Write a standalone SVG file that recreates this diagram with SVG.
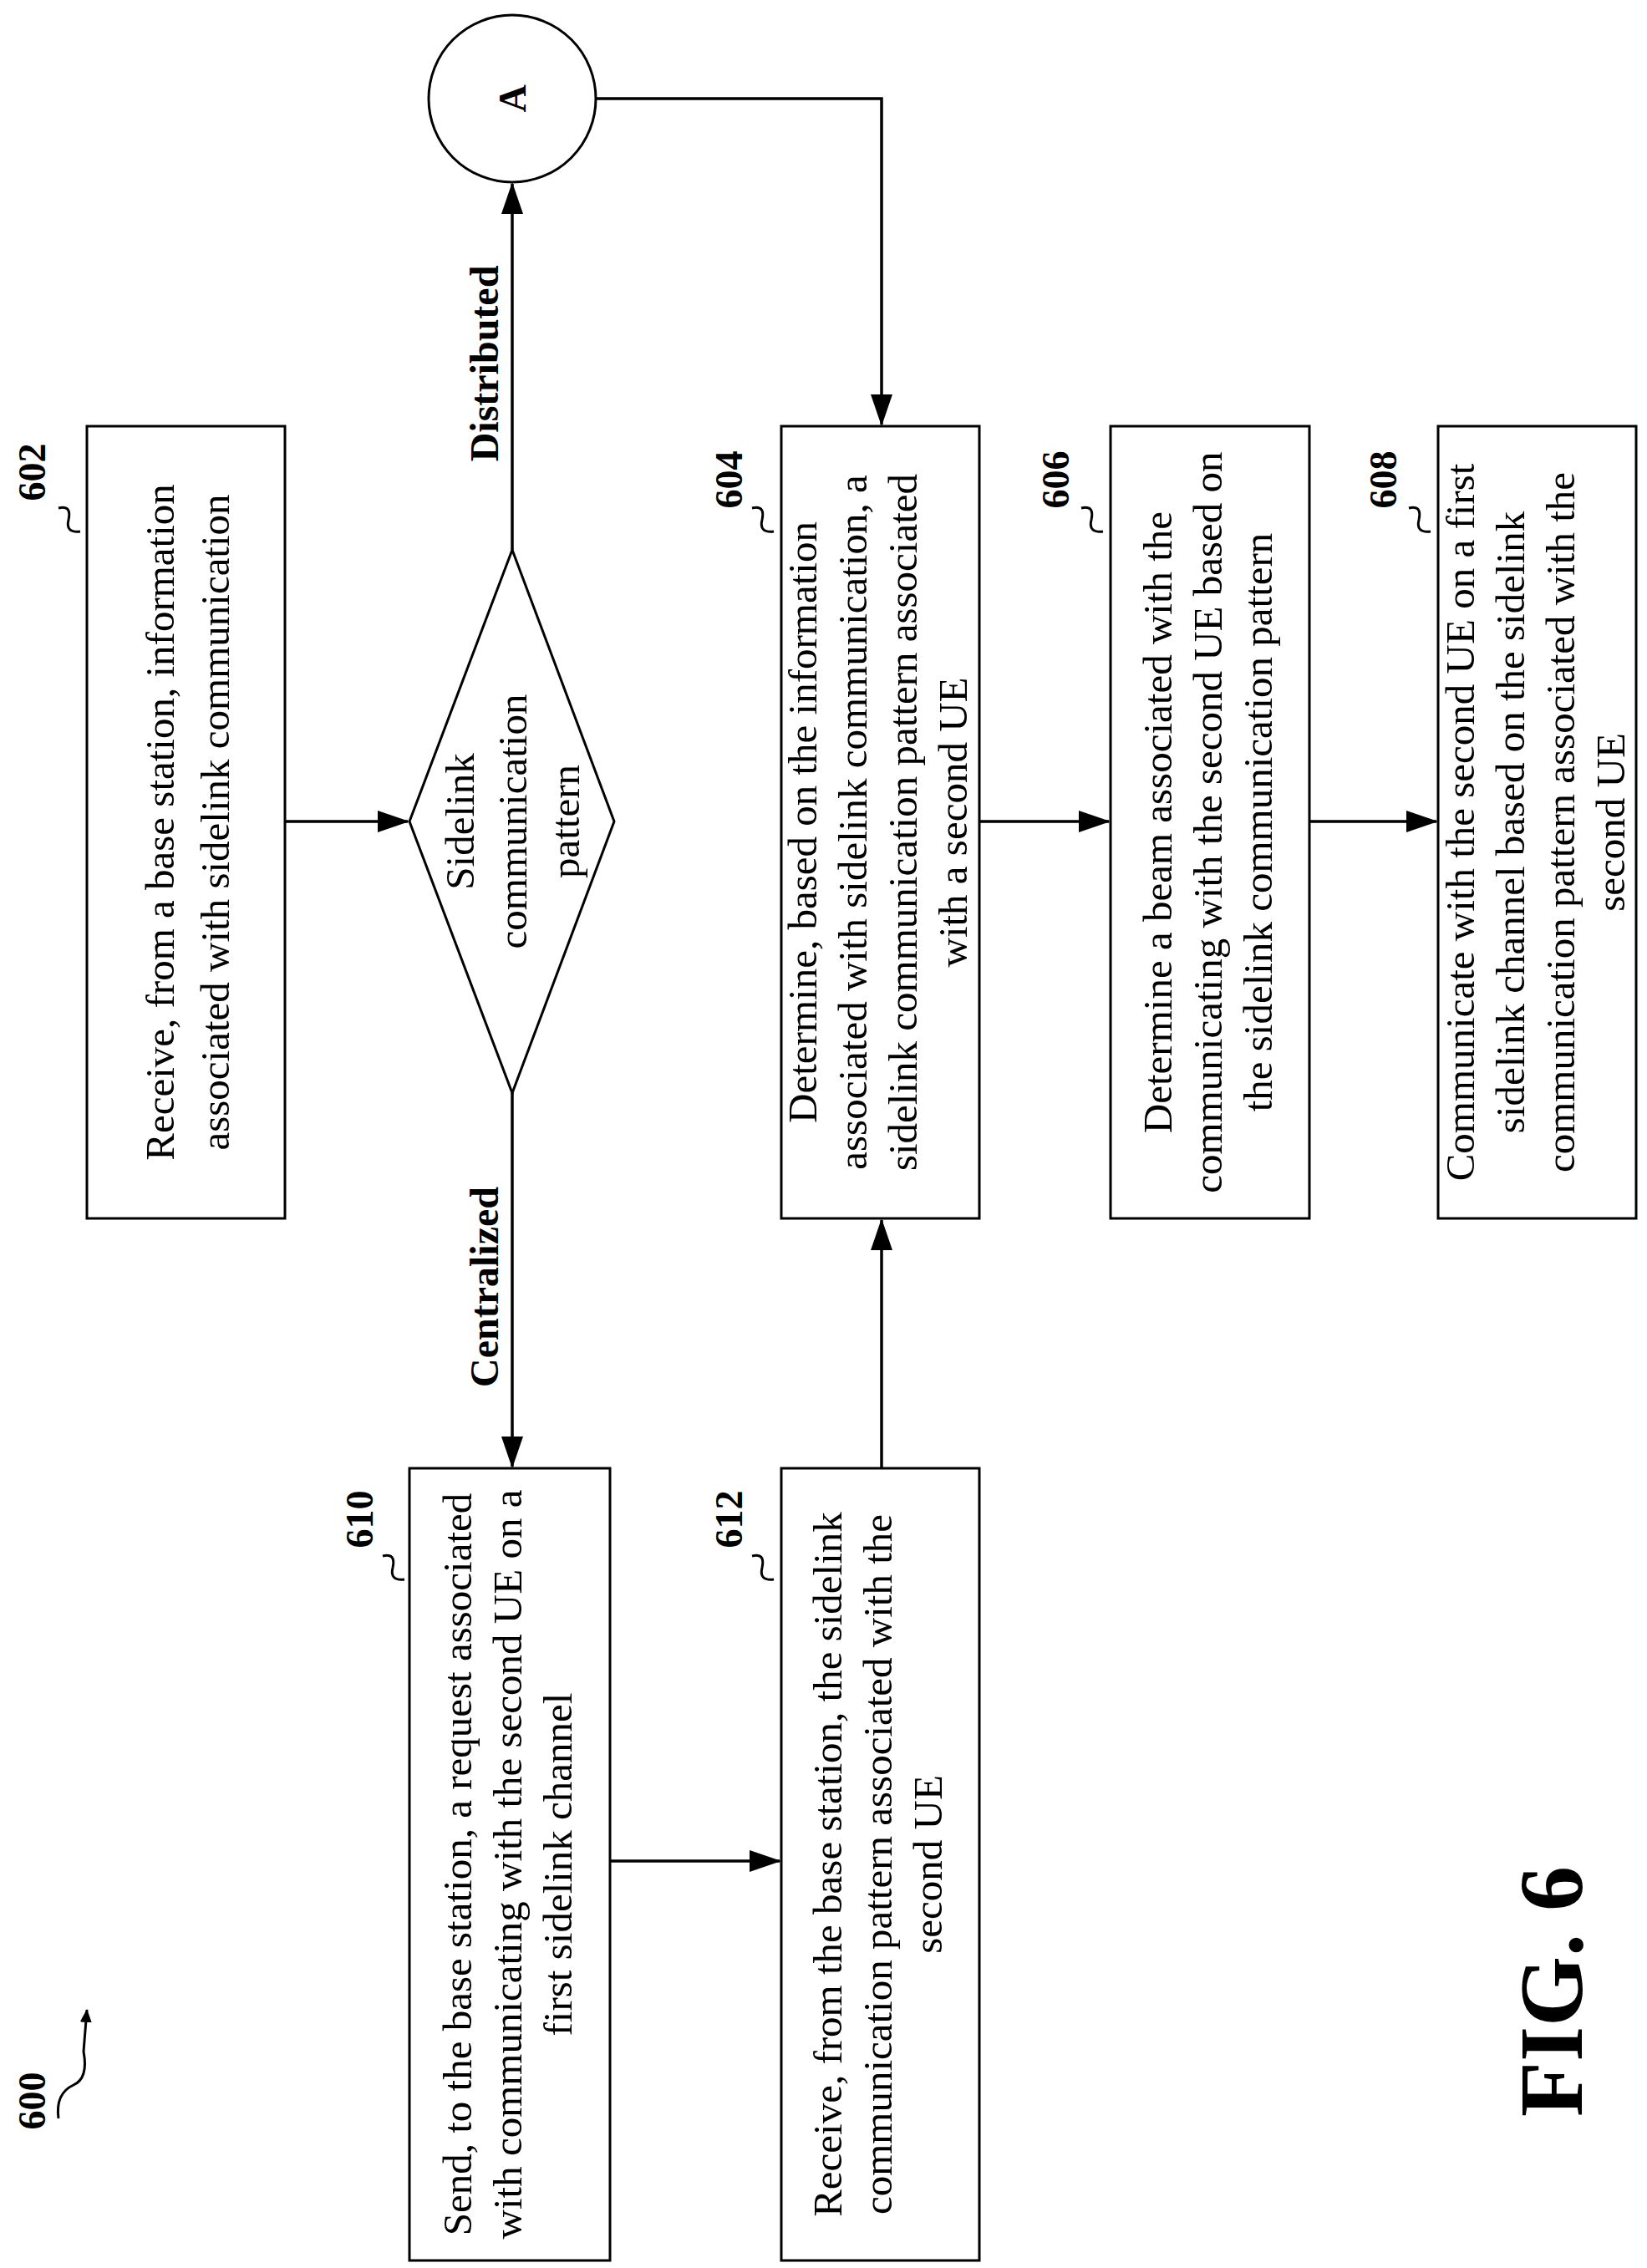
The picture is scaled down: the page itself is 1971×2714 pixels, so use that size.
<svg xmlns="http://www.w3.org/2000/svg" width="1971" height="2714" viewBox="0 0 1971 2714">
<style>
.b{fill:#fff;stroke:#000;stroke-width:3}
.t{font-family:"Liberation Serif",serif;font-size:49px;fill:#000;text-anchor:middle}
.l{font-family:"Liberation Serif",serif;font-size:46px;font-weight:bold;fill:#000;text-anchor:middle}
.c{fill:none;stroke:#000;stroke-width:3.5}
.s{fill:none;stroke:#000;stroke-width:3}
</style>
<defs><marker id="ah" markerWidth="16" markerHeight="14" refX="15" refY="7" orient="auto" markerUnits="userSpaceOnUse" viewBox="0 0 16 14"><path d="M0,0L16,7L0,14z" fill="#000"/></marker>
<marker id="ah2" markerWidth="38" markerHeight="26" refX="36" refY="13" orient="auto" markerUnits="userSpaceOnUse" viewBox="0 0 38 26"><path d="M0,0L38,13L0,26z" fill="#000"/></marker></defs>
<g id="connectors">
<path class="c" d="M341,983H488" marker-end="url(#ah2)"/>
<path class="c" d="M613,658V220" marker-end="url(#ah2)"/>
<path class="c" d="M713,118H1055V508" marker-end="url(#ah2)"/>
<path class="c" d="M613,1308V1755" marker-end="url(#ah2)"/>
<path class="c" d="M730,2227H933" marker-end="url(#ah2)"/>
<path class="c" d="M1055,1757V1460" marker-end="url(#ah2)"/>
<path class="c" d="M1172,983H1327" marker-end="url(#ah2)"/>
<path class="c" d="M1567,983H1719" marker-end="url(#ah2)"/>
<text class="l" style="font-size:48px" transform="translate(596,435) rotate(-90)">Distributed</text>
<text class="l" style="font-size:48px" transform="translate(596,1540) rotate(-90)">Centralized</text>
</g>
<g id="n602"><rect class="b" x="104" y="510" width="237" height="948"/>
<text class="t" transform="translate(222,984) rotate(-90)"><tspan x="0" y="-14">Receive, from a base station, information</tspan><tspan x="0" y="52">associated with sidelink communication</tspan></text>
<text class="l" transform="translate(54,565) rotate(-90)">602</text>
<path class="s" d="M70,608 q16,-4 12,14 q-4,16 14,14"/></g>
<g id="diamond"><path class="b" d="M613,658L735,983L613,1308L490,983z"/>
<text class="t" transform="translate(613,983) rotate(-90)"><tspan x="0" y="-46">Sidelink</tspan><tspan x="0" y="17">communication</tspan><tspan x="0" y="80">pattern</tspan></text></g>
<g id="nA"><circle class="b" cx="613" cy="118" r="100"/><text class="l" transform="translate(629,118) rotate(-90)">A</text></g>
<g id="n604"><rect class="b" x="935" y="510" width="237" height="948"/>
<text class="t" transform="translate(1053,984) rotate(-90)"><tspan x="0" y="-76">Determine, based on the information</tspan><tspan x="0" y="-16">associated with sidelink communication, a</tspan><tspan x="0" y="44">sidelink communication pattern associated</tspan><tspan x="0" y="104">with a second UE</tspan></text>
<text class="l" transform="translate(888,574) rotate(-90)">604</text>
<path class="s" d="M900,608 q16,-4 12,14 q-4,16 14,14"/></g>
<g id="n606"><rect class="b" x="1329" y="510" width="238" height="948"/>
<text class="t" transform="translate(1448,984) rotate(-90)"><tspan x="0" y="-46">Determine a beam associated with the</tspan><tspan x="0" y="14">communicating with the second UE based on</tspan><tspan x="0" y="74">the sidelink communication pattern</tspan></text>
<text class="l" transform="translate(1279,574) rotate(-90)">606</text>
<path class="s" d="M1294,608 q16,-4 12,14 q-4,16 14,14"/></g>
<g id="n608"><rect class="b" x="1721" y="510" width="237" height="948"/>
<text class="t" transform="translate(1840,984) rotate(-90)"><tspan x="0" y="-76">Communicate with the second UE on a first</tspan><tspan x="0" y="-16">sidelink channel based on the sidelink</tspan><tspan x="0" y="44">communication pattern associated with the</tspan><tspan x="0" y="104">second UE</tspan></text>
<text class="l" transform="translate(1671,574) rotate(-90)">608</text>
<path class="s" d="M1686,608 q16,-4 12,14 q-4,16 14,14"/></g>
<g id="n610"><rect class="b" x="490" y="1757" width="240" height="948"/>
<text class="t" transform="translate(610,2231) rotate(-90)"><tspan x="0" y="-46">Send, to the base station, a request associated</tspan><tspan x="0" y="14">with communicating with the second UE on a</tspan><tspan x="0" y="74">first sidelink channel</tspan></text>
<text class="l" transform="translate(446,1818) rotate(-90)">610</text>
<path class="s" d="M458,1862 q16,-4 12,14 q-4,16 14,14"/></g>
<g id="n612"><rect class="b" x="935" y="1757" width="237" height="948"/>
<text class="t" transform="translate(1053,2231) rotate(-90)"><tspan x="0" y="-46">Receive, from the base station, the sidelink</tspan><tspan x="0" y="14">communication pattern associated with the</tspan><tspan x="0" y="74">second UE</tspan></text>
<text class="l" transform="translate(888,1818) rotate(-90)">612</text>
<path class="s" d="M900,1862 q16,-4 12,14 q-4,16 14,14"/></g>
<g id="labels">
<text class="l" transform="translate(54,2514) rotate(-90)">600</text>
<path class="s" d="M70,2535 q-4,-30 18,-40 q18,-8 12,-40 l4,-50" marker-end="url(#ah)"/>
<text class="l" style="font-size:108px" transform="translate(1893,2383) rotate(-90)">FIG. 6</text>
</g>
</svg>
